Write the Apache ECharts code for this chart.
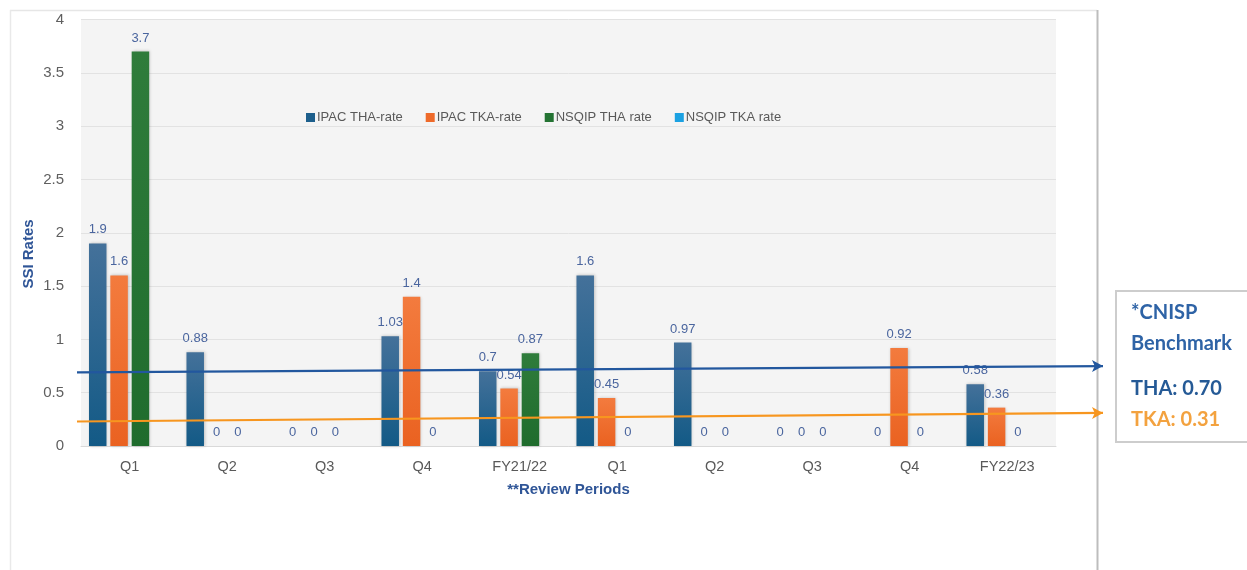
<!DOCTYPE html>
<html>
<head>
<meta charset="utf-8">
<title>SSI Rates by Review Period</title>
<script src="https://cdn.jsdelivr.net/npm/echarts@6/dist/echarts.min.js"></script>
<style>
  html, body { margin: 0; padding: 0; background: #ffffff; }
  #chart { width: 1247px; height: 570px; }
</style>
</head>
<body>
<div id="chart"></div>
<script>
// Review periods (two fiscal years, quarterly plus annual totals)
const periods = ['Q1', 'Q2', 'Q3', 'Q4', 'FY21/22', 'Q1', 'Q2', 'Q3', 'Q4', 'FY22/23'];

// SSI rates per series
const ipacTha   = [1.9, 0.88, 0, 1.03, 0.7, 1.6, 0.97, 0, 0, 0.58];
const ipacTka   = [1.6, 0, 0, 1.4, 0.54, 0.45, 0, 0, 0.92, 0.36];
const nsqipTha  = [3.7, 0, 0, 0, 0.87, 0, 0, 0, 0, 0];
const nsqipTka  = [null, null, null, null, null, null, null, null, null, null];

// Y axis ticks
const yTicks = { min: 0, max: 4, interval: 0.5 };

// CNISP benchmark arrows: [start, end] rate along the plot width
const thaBenchmarkLine = [0.69, 0.75];
const tkaBenchmarkLine = [0.23, 0.31];
const benchmarkText = ['*CNISP', 'Benchmark', 'THA: 0.70', 'TKA: 0.31'];

const seriesNames = ['IPAC THA-rate', 'IPAC TKA-rate', 'NSQIP THA rate', 'NSQIP TKA rate'];
const seriesColors = ['#1d5f8c', '#ee6a2a', '#247333', '#1ba1e2'];

const chart = echarts.init(document.getElementById('chart'), null, { renderer: 'canvas' });

function grad(top, bottom) {
  return new echarts.graphic.LinearGradient(0, 0, 0, 1, [
    { offset: 0, color: top },
    { offset: 1, color: bottom }
  ]);
}

const labelStyle = {
  show: true,
  position: 'top',
  distance: 7,
  color: '#4a659e',
  fontSize: 13,
  fontFamily: 'Liberation Sans, Arial, sans-serif'
};

function barSeries(name, data, fillTop, fillBottom) {
  return {
    name: name,
    type: 'bar',
    data: data,
    xAxisIndex: 0,
    yAxisIndex: 0,
    barWidth: 17.5,
    barGap: '22%',
    itemStyle: {
      color: grad(fillTop, fillBottom),
      shadowBlur: 3,
      shadowColor: 'rgba(0,0,0,0.22)',
      shadowOffsetX: 1
    },
    label: labelStyle,
    emphasis: { disabled: true }
  };
}

function arrowLine(values, color) {
  return {
    type: 'line',
    xAxisIndex: 1,
    yAxisIndex: 1,
    data: [],
    silent: true,
    markLine: {
      silent: true,
      animation: false,
      symbol: ['none', 'arrow'],
      symbolSize: [9, 11],
      label: { show: false },
      lineStyle: { color: color, width: 2.2, type: 'solid' },
      emphasis: { disabled: true },
      data: [[{ coord: [0, values[0]] }, { coord: [1, values[1]] }]]
    }
  };
}

const option = {
  animation: false,
  backgroundColor: '#ffffff',
  color: seriesColors,
  legend: {
    data: seriesNames.map((n, i) => ({
      name: n,
      itemStyle: { color: seriesColors[i] }
    })),
    left: 301,
    top: 106,
    icon: 'rect',
    itemWidth: 9,
    itemHeight: 9,
    itemGap: 23,
    textStyle: {
      color: '#595959',
      fontSize: 13,
      fontFamily: 'Liberation Sans, Arial, sans-serif',
      padding: [0, 0, 0, -3]
    }
  },
  grid: [
    {
      left: 81, right: 191, top: 19.5, bottom: 124,
      show: true, backgroundColor: '#f4f4f4', borderWidth: 0
    },
    {
      left: 77, right: 144, top: 19.5, bottom: 124,
      show: false
    }
  ],
  xAxis: [
    {
      type: 'category',
      gridIndex: 0,
      data: periods,
      axisTick: { show: false },
      axisLine: { show: true, lineStyle: { color: '#d9d9d9', width: 1 } },
      axisLabel: {
        color: '#595959',
        fontSize: 14.5,
        margin: 13,
        fontFamily: 'Liberation Sans, Arial, sans-serif'
      },
      name: '**Review Periods',
      nameLocation: 'middle',
      nameGap: 36,
      nameTextStyle: {
        color: '#2f5597',
        fontWeight: 'bold',
        fontSize: 15,
        fontFamily: 'Liberation Sans, Arial, sans-serif'
      }
    },
    {
      type: 'value',
      gridIndex: 1,
      min: 0,
      max: 1,
      show: false
    }
  ],
  yAxis: [
    {
      type: 'value',
      gridIndex: 0,
      min: yTicks.min,
      max: yTicks.max,
      interval: yTicks.interval,
      axisLine: { show: false },
      axisTick: { show: false },
      splitLine: { show: true, lineStyle: { color: '#e2e2e2', width: 1 } },
      axisLabel: {
        color: '#5f5f5f',
        fontSize: 15,
        margin: 17,
        fontFamily: 'Liberation Sans, Arial, sans-serif'
      }
    },
    {
      type: 'value',
      gridIndex: 1,
      min: yTicks.min,
      max: yTicks.max,
      show: false
    }
  ],
  series: [
    barSeries(seriesNames[0], ipacTha, '#44719a', '#135a86'),
    barSeries(seriesNames[1], ipacTka, '#f37b3e', '#ea6221'),
    barSeries(seriesNames[2], nsqipTha, '#2f7c3b', '#1f6c2d'),
    barSeries(seriesNames[3], nsqipTka, '#3aaee6', '#1b9ad8'),
    arrowLine(thaBenchmarkLine, '#22579e'),
    arrowLine(tkaBenchmarkLine, '#f7961f')
  ],
  graphic: [
    // chart frame
    { type: 'line', silent: true, z: 0,
      shape: { x1: 10, y1: 10.5, x2: 1097, y2: 10.5 },
      style: { stroke: '#e6e6e6', lineWidth: 1.5 } },
    { type: 'line', silent: true, z: 0,
      shape: { x1: 10.5, y1: 10, x2: 10.5, y2: 570 },
      style: { stroke: '#e9e9e9', lineWidth: 1.5 } },
    { type: 'line', silent: true, z: 0,
      shape: { x1: 1097.5, y1: 10, x2: 1097.5, y2: 570 },
      style: { stroke: '#bdbdbd', lineWidth: 2 } },
    // y axis title
    {
      type: 'text', silent: true,
      x: 29, y: 254, rotation: Math.PI / 2,
      style: {
        text: 'SSI Rates',
        fill: '#2f5597',
        font: 'bold 15px "Liberation Sans", Arial, sans-serif',
        textAlign: 'center',
        textVerticalAlign: 'middle'
      }
    },
    // benchmark box
    {
      type: 'rect', silent: true,
      shape: { x: 1116, y: 291, width: 150, height: 151 },
      style: { fill: '#ffffff', stroke: '#cdcdcd', lineWidth: 2 }
    },
    {
      type: 'text', silent: true, x: 1131, y: 313,
      style: { text: benchmarkText[0], fill: '#2e63a6',
        font: 'bold 20px Lato, "Open Sans", sans-serif', textVerticalAlign: 'middle' }
    },
    {
      type: 'text', silent: true, x: 1131, y: 344,
      style: { text: benchmarkText[1], fill: '#2e63a6',
        font: 'bold 20px Lato, "Open Sans", sans-serif', textVerticalAlign: 'middle' }
    },
    {
      type: 'text', silent: true, x: 1131, y: 389,
      style: { text: benchmarkText[2], fill: '#255a96',
        font: 'bold 20px Lato, "Open Sans", sans-serif', textVerticalAlign: 'middle' }
    },
    {
      type: 'text', silent: true, x: 1131, y: 420,
      style: { text: benchmarkText[3], fill: '#f3a23f',
        font: 'bold 20px Lato, "Open Sans", sans-serif', textVerticalAlign: 'middle' }
    }
  ]
};

chart.setOption(option);
</script>
</body>
</html>
